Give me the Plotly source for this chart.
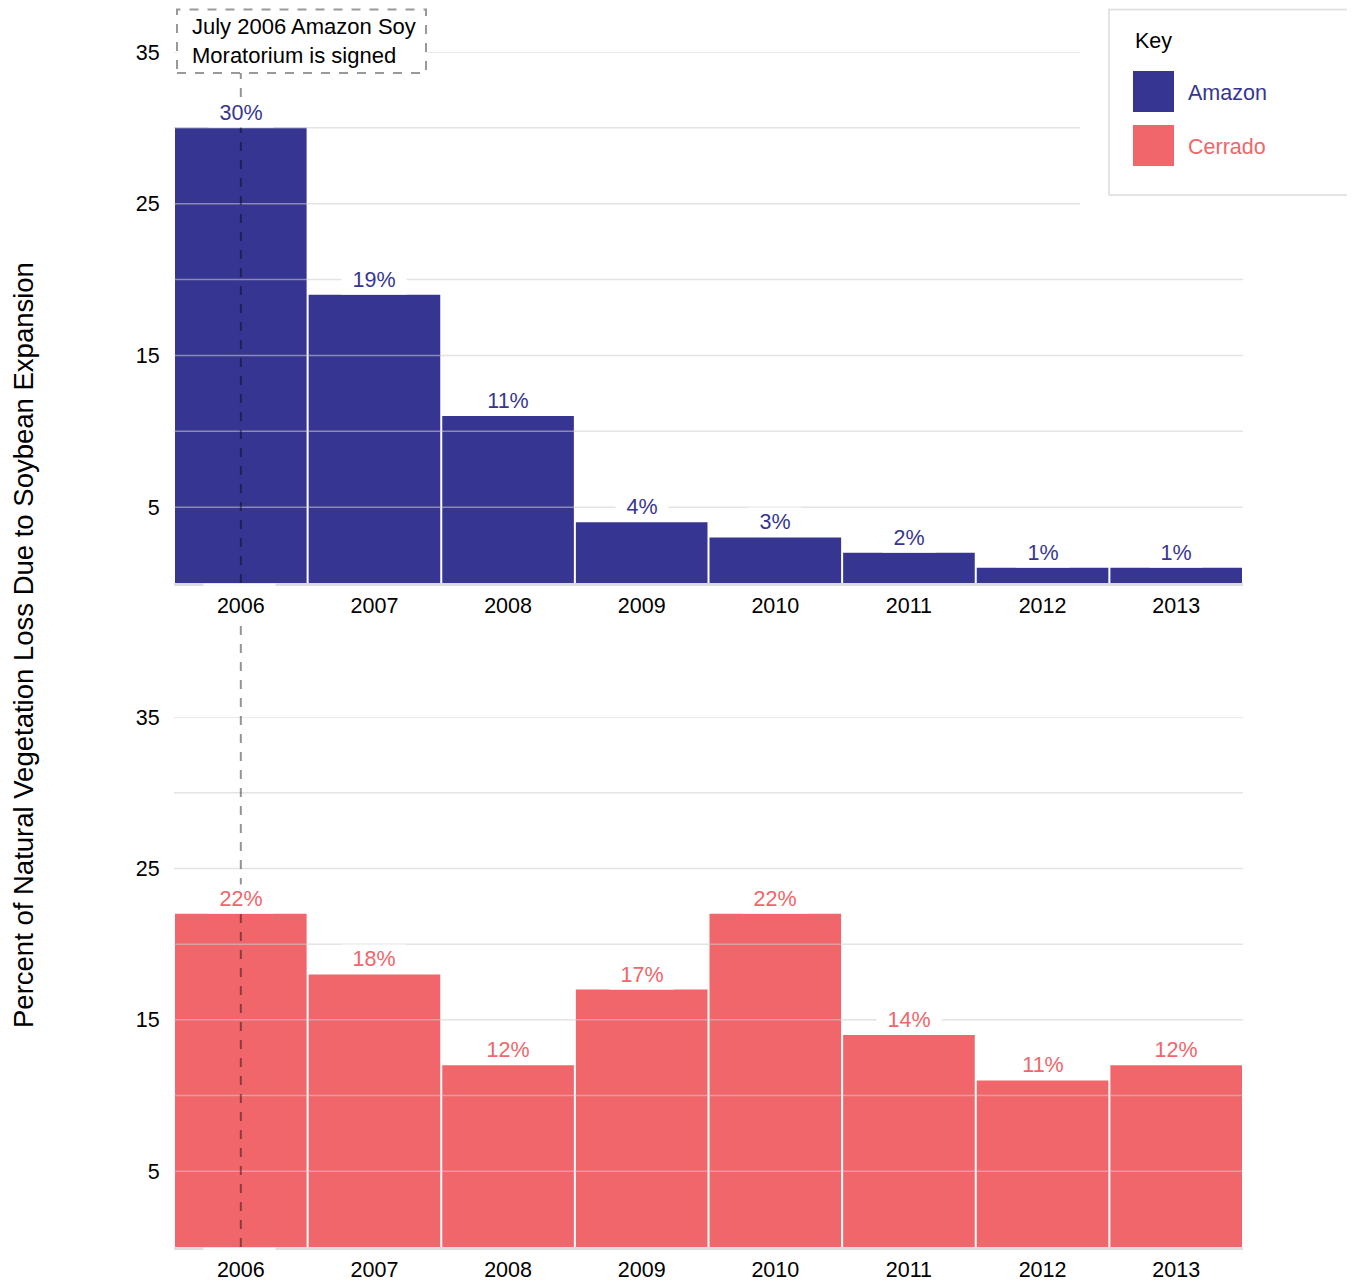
import plotly.graph_objects as go

# ---- data ----
years = ["2006", "2007", "2008", "2009", "2010", "2011", "2012", "2013"]
amazon = [30, 19, 11, 4, 3, 2, 1, 1]
cerrado = [22, 18, 12, 17, 22, 14, 11, 12]
series_names = ["Amazon", "Cerrado"]
series_colors = ["#363692", "#F0666A"]
y_tick_vals = [5, 15, 25, 35]
grid_vals = [5, 10, 15, 20, 25, 30, 35]
y_title = "Percent of Natural Vegetation Loss Due to Soybean Expansion"
note_text = "July 2006 Amazon Soy<br>Moratorium is signed"
key_title = "Key"
event_year = "2006"

W, H = 1355, 1284
OFF = 8  # page body margin
FONT = "Liberation Sans, Arial, sans-serif"
FS = 21.5
TXT = "#000000"


def px(x):
    return (x - OFF) / W


def py(y):
    return 1 - (y - OFF) / H


def xi(year):
    return years.index(year)


fig = go.Figure()
panels = [("x", "y", amazon), ("x2", "y2", cerrado)]
for (xa, ya, vals), name, col in zip(panels, series_names, series_colors):
    fig.add_trace(go.Bar(x=years, y=vals, name=name, marker=dict(color=col, line=dict(width=0)),
                         xaxis=xa, yaxis=ya, showlegend=False, cliponaxis=False))

x_dom = [px(174), px(1243)]
axis_common_x = dict(type="category", domain=x_dom, range=[-0.5, len(years) - 0.5],
                     showgrid=False, zeroline=False,
                     showline=True, linecolor="#dddddd", linewidth=3,
                     ticks="outside", ticklen=1, tickcolor="rgba(0,0,0,0)",
                     tickfont=dict(family=FONT, size=FS, color=TXT), automargin=False)
axis_common_y = dict(range=[0, 35], showgrid=False, zeroline=False, showline=False,
                     tickvals=y_tick_vals, ticks="outside", ticklen=9, tickcolor="rgba(0,0,0,0)",
                     tickfont=dict(family=FONT, size=FS, color=TXT), automargin=False)

fig.update_layout(
    width=W, height=H,
    margin=dict(l=0, r=0, t=0, b=0),
    paper_bgcolor="white", plot_bgcolor="white",
    bargap=0.015,
    xaxis=dict(axis_common_x, anchor="y"),
    yaxis=dict(axis_common_y, domain=[py(583), py(52)], anchor="x"),
    xaxis2=dict(axis_common_x, anchor="y2"),
    yaxis2=dict(axis_common_y, domain=[py(1247), py(717)], anchor="x2"),
    font=dict(family=FONT, size=FS, color=TXT),
)

shapes = []
# gridlines drawn above bars, semi-transparent
for ya in ["y", "y2"]:
    for g in grid_vals:
        x1 = px(1080) if (ya == "y" and g >= 25) else px(1243)
        shapes.append(dict(type="line", xref="paper", x0=px(174), x1=x1, yref=ya, y0=g, y1=g,
                           line=dict(color="rgba(205,205,205,0.55)", width=1.5), layer="above"))

# white gap in the baseline under the first tick label
for base in [584.8, 1248.8]:
    shapes.append(dict(type="line", xref="x", yref="paper", x0=xi(event_year) - 0.28,
                       x1=xi(event_year) + 0.26, y0=py(base), y1=py(base),
                       line=dict(color="white", width=2), layer="above"))

# note box
shapes.append(dict(type="rect", xref="paper", yref="paper", x0=px(177), x1=px(426),
                   y0=py(73), y1=py(9.5), fillcolor="white",
                   line=dict(color="#999999", width=2, dash="dash"), layer="above"))
# event dashed line (interrupted by the tick label of the upper panel)
dash_line = dict(color="rgba(0,0,0,0.42)", width=2, dash="dash")
shapes.append(dict(type="line", xref="x", yref="paper", x0=xi(event_year), x1=xi(event_year),
                   y0=py(583), y1=py(73), line=dash_line, layer="above"))
shapes.append(dict(type="line", xref="x", yref="paper", x0=xi(event_year), x1=xi(event_year),
                   y0=py(1247), y1=py(624), line=dash_line, layer="above"))

# key box
shapes.append(dict(type="rect", xref="paper", yref="paper", x0=px(1109), x1=px(1349),
                   y0=py(195), y1=py(9.5), fillcolor="white",
                   line=dict(color="#dcdcdc", width=1.5), layer="above"))
key_rows = [(71, 112), (125, 166)]
for (t, b), col in zip(key_rows, series_colors):
    shapes.append(dict(type="rect", xref="paper", yref="paper", x0=px(1133), x1=px(1174),
                       y0=py(b), y1=py(t), fillcolor=col, line=dict(width=0), layer="above"))

annotations = []
# bar value labels
for (xa, ya, vals), col in zip(panels, series_colors):
    for yr, v in zip(years, vals):
        txt = f"{v}%"
        annotations.append(dict(x=xi(yr), y=v, xref=xa, yref=ya, text=txt, showarrow=False,
                                yanchor="bottom", xanchor="center", yshift=0,
                                font=dict(family=FONT, size=FS, color=col),
                                bgcolor="white", borderpad=2, width=len(txt) * 12 + 24))

annotations.append(dict(x=px(190), y=py(41), xref="paper", yref="paper", text=note_text,
                        showarrow=False, xanchor="left", yanchor="middle", align="left",
                        font=dict(family=FONT, size=22, color=TXT)))
annotations.append(dict(x=px(1133), y=py(41), xref="paper", yref="paper", text=key_title,
                        showarrow=False, xanchor="left", yanchor="middle",
                        font=dict(family=FONT, size=FS, color=TXT)))
for (t, b), name, col in zip(key_rows, series_names, series_colors):
    annotations.append(dict(x=px(1186), y=py((t + b) / 2 + 1.5), xref="paper", yref="paper", text=name,
                            showarrow=False, xanchor="left", yanchor="middle",
                            font=dict(family=FONT, size=FS, color=col)))

annotations.append(dict(x=px(23), y=py(645), xref="paper", yref="paper", text=y_title,
                        showarrow=False, textangle=-90, xanchor="center", yanchor="middle",
                        font=dict(family=FONT, size=27.5, color=TXT)))

fig.update_layout(shapes=shapes, annotations=annotations)
fig.write_html("out.html")
